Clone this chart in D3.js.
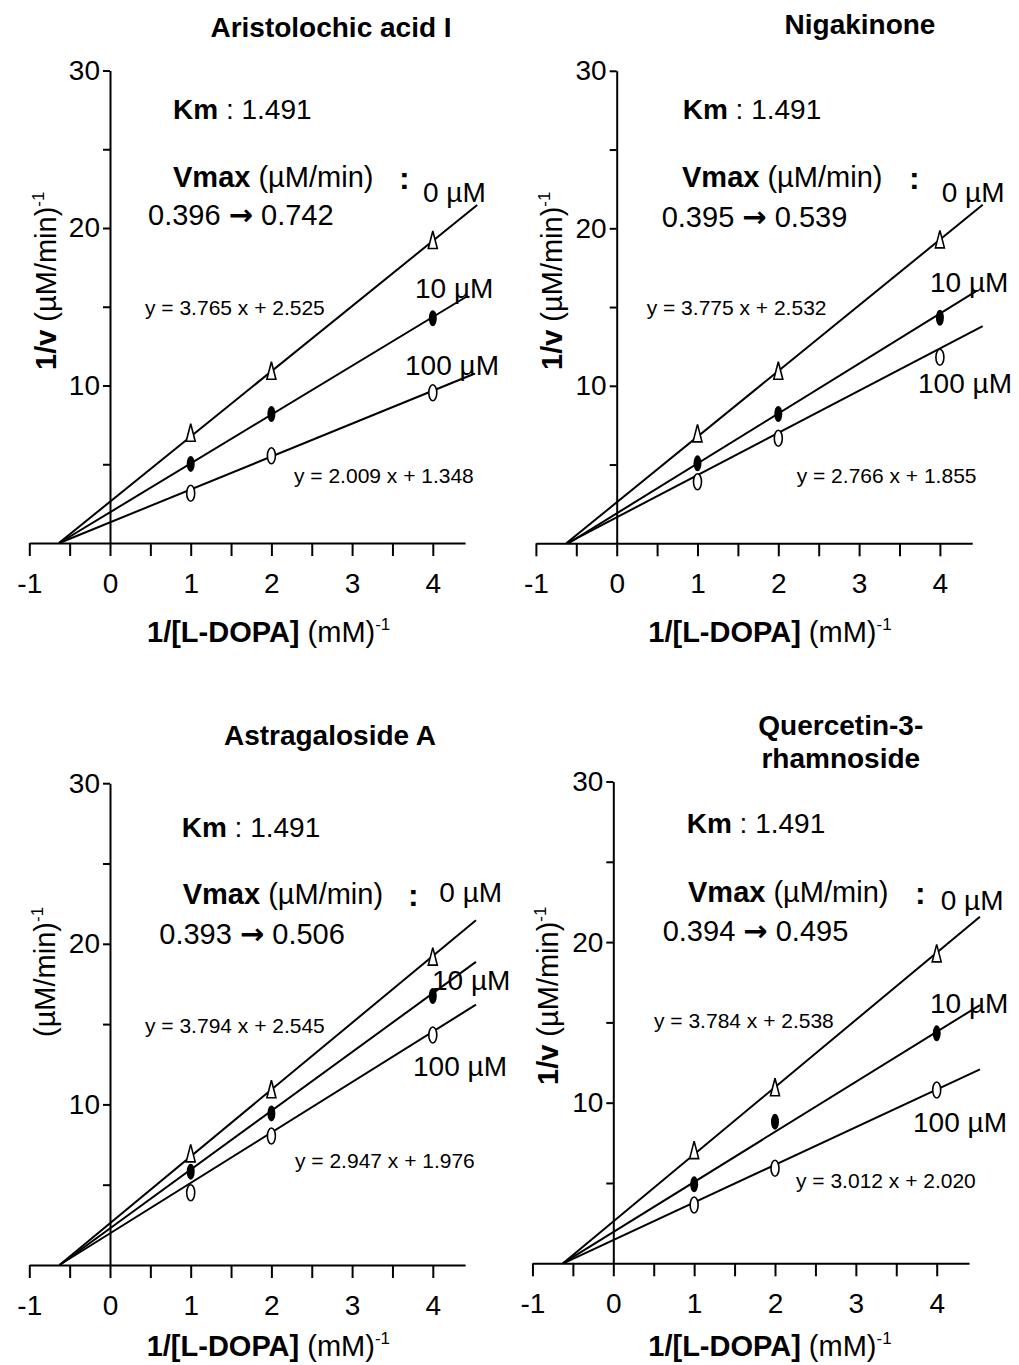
<!DOCTYPE html>
<html>
<head>
  <meta charset="utf-8">
  <title>Lineweaver-Burk plots</title>
  <script src="https://d3js.org/d3.v7.min.js"></script>
  <style>
    body { margin: 0; background: #fff; }
    svg { display: block; }
    text { font-family: "Liberation Sans", Arial, sans-serif; fill: #000; }
    .axis path, .axis line { stroke: #000; stroke-width: 2; fill: none; }
    .axis text { font-family: "Liberation Sans", Arial, sans-serif; font-size: 28px; }
  </style>
</head>
<body>
<svg id="chart" width="1019" height="1365"></svg>
<script>
  // ---- data ----
  const titles = [["Aristolochic acid I"], ["Nigakinone"], ["Astragaloside A"], ["Quercetin-3-", "rhamnoside"]];
  const concLabels = ["0 µM", "10 µM", "100 µM"];
  const substrate = [1, 2, 4];               // 1/[L-DOPA]
  const xTicks = [-1, -0.5, 0, 0.5, 1, 1.5, 2, 2.5, 3, 3.5, 4];
  const yTicks = [5, 10, 15, 20, 25, 30];

  // 1/v for each panel: [x=1, x=2, x=4]
  const inv0   = [[7.0, 10.94, 19.24], [6.98, 10.96, 19.3], [6.95, 10.94, 19.2], [7.05, 10.96, 19.3]];
  const inv10  = [[5.02, 8.19, 14.27], [5.08, 8.21, 14.32], [5.81, 9.44, 16.75], [4.92, 8.82, 14.32]];
  const inv100 = [[3.16, 5.54, 9.54], [3.91, 6.67, 11.81], [4.5, 8.03, 14.32], [3.63, 5.92, 10.79]];

  // drawn regression lines (slope, intercept) per panel, order 0 / 10 / 100 µM
  const slopes     = [[4.14, 3.10, 2.09], [4.17, 3.17, 2.68], [4.16, 3.66, 3.14], [4.185, 3.116, 2.344]];
  const intercepts = [[2.62, 1.95, 1.31], [2.6, 1.9, 1.65], [2.6, 2.28, 1.97], [2.6, 1.95, 1.45]];
  const lineEnds   = [[4.55, 4.42, 4.5], [4.53, 4.44, 4.53], [4.535, 4.535, 4.535], [4.535, 4.535, 4.535]];

  const kmValues = ["1.491", "1.491", "1.491", "1.491"];
  const vmaxFrom = ["0.396", "0.395", "0.393", "0.394"];
  const vmaxTo   = ["0.742", "0.539", "0.506", "0.495"];
  const eqTop    = ["y = 3.765 x + 2.525", "y = 3.775 x + 2.532", "y = 3.794 x + 2.545", "y = 3.784 x + 2.538"];
  const eqBottom = ["y = 2.009 x + 1.348", "y = 2.766 x + 1.855", "y = 2.947 x + 1.976", "y = 3.012 x + 2.020"];
  const showOneOverV = [true, true, false, true];

  // ---- layout (pixels) ----
  const layout = [
    { ox: 110, oy: 543, ux: 80.7, uy: 15.75, title: [331, 37], km: [173, 119], vmax: [173, 187], colon: [399, 189],
      range: [148, 225], c0: [423, 202], c10: [415, 298], c100: [405, 375], eq1: [145, 315], eq2: [294, 483],
      ylab: [56, 370], xlab: [147, 642] },
    { ox: 616.7, oy: 543.3, ux: 80.8, uy: 15.75, title: [860, 34], km: [682.7, 119], vmax: [682, 187], colon: [909, 189],
      range: [661.7, 227], c0: [941.7, 202], c10: [930, 292], c100: [918, 393], eq1: [646.7, 315], eq2: [796.7, 483],
      ylab: [562, 370], xlab: [648.3, 642] },
    { ox: 110, oy: 1265, ux: 80.7, uy: 16.06, title: [330, 745], km: [181.7, 837], vmax: [182.7, 904], colon: [408, 906],
      range: [159.3, 944], c0: [439.3, 902], c10: [432, 990], c100: [413, 1076], eq1: [145, 1033], eq2: [295, 1168],
      ylab: [55, 1037], xlab: [146.7, 1356] },
    { ox: 613.3, oy: 1263.3, ux: 80.85, uy: 16.06, title: [840.8, 768], km: [686.7, 833], vmax: [688, 902], colon: [915, 904],
      range: [662.7, 941], c0: [940.7, 910], c10: [930, 1013], c100: [913, 1132], eq1: [654, 1028], eq2: [796, 1188],
      ylab: [558, 1085], xlab: [648.3, 1356] }
  ];

  const svg = d3.select("#chart");
  svg.append("rect").attr("width", 1019).attr("height", 1365).attr("fill", "#fff");

  function label(g, pos, size, text, weight) {
    return g.append("text").attr("x", pos[0]).attr("y", pos[1])
      .attr("font-size", size).attr("font-weight", weight || "normal").text(text);
  }

  layout.forEach((L, i) => {
    const g = svg.append("g");
    const x = d3.scaleLinear().domain([-1, 4.4]).range([L.ox - L.ux, L.ox + 4.4 * L.ux]);
    const y = d3.scaleLinear().domain([0, 30]).range([L.oy, L.oy - 30 * L.uy]);

    // axes
    g.append("g").attr("class", "axis")
      .attr("transform", `translate(0,${L.oy})`)
      .call(d3.axisBottom(x).tickValues(xTicks).tickSize(13).tickSizeOuter(0).tickPadding(17)
        .tickFormat(d => Number.isInteger(d) ? String(d) : ""));
    g.append("g").attr("class", "axis")
      .attr("transform", `translate(${L.ox},0)`)
      .call(d3.axisLeft(y).tickValues(yTicks).tickSize(7).tickSizeOuter(0).tickPadding(3)
        .tickFormat(d => d % 10 === 0 ? String(d) : ""));

    // lines
    const lineGen = d3.line().x(d => x(d[0])).y(d => y(d[1]));
    [0, 1, 2].forEach(s => {
      const m = slopes[i][s], b = intercepts[i][s], xe = lineEnds[i][s];
      g.append("path")
        .attr("d", lineGen([[-b / m, 0], [xe, m * xe + b]]))
        .attr("fill", "none").attr("stroke", "#000").attr("stroke-width", 2);
    });

    // markers
    g.selectAll(".tri").data(inv0[i]).join("path")
      .attr("transform", (d, k) => `translate(${x(substrate[k])},${y(d)})`)
      .attr("d", "M0,-9L4.5,8.5L-4.5,8.5Z")
      .attr("fill", "#fff").attr("stroke", "#000").attr("stroke-width", 1.6);
    g.selectAll(".dot10").data(inv10[i]).join("ellipse")
      .attr("cx", (d, k) => x(substrate[k])).attr("cy", d => y(d))
      .attr("rx", 4).attr("ry", 8).attr("fill", "#000");
    g.selectAll(".dot100").data(inv100[i]).join("ellipse")
      .attr("cx", (d, k) => x(substrate[k])).attr("cy", d => y(d))
      .attr("rx", 4).attr("ry", 8).attr("fill", "#fff").attr("stroke", "#000").attr("stroke-width", 1.6);

    // title
    titles[i].forEach((t, k) => {
      g.append("text").attr("x", L.title[0]).attr("y", L.title[1] - (titles[i].length - 1 - k) * 33)
        .attr("text-anchor", "middle").attr("font-size", 28).attr("font-weight", "bold").text(t);
    });

    // Km / Vmax annotations
    const km = g.append("text").attr("x", L.km[0]).attr("y", L.km[1]).attr("font-size", 28);
    km.append("tspan").attr("font-weight", "bold").text("Km");
    km.append("tspan").text(" : " + kmValues[i]);
    const vm = g.append("text").attr("x", L.vmax[0]).attr("y", L.vmax[1]).attr("font-size", 29);
    vm.append("tspan").attr("font-weight", "bold").text("Vmax");
    vm.append("tspan").text(" (µM/min)");
    label(g, L.colon, 32, ":", "bold");
    const rg = g.append("text").attr("x", L.range[0]).attr("y", L.range[1]).attr("font-size", 29);
    rg.append("tspan").text(vmaxFrom[i] + " ");
    rg.append("tspan").attr("font-family", "DejaVu Sans").attr("font-weight", "bold").text("\u2192");
    rg.append("tspan").text(" " + vmaxTo[i]);

    // concentration labels and equations
    label(g, L.c0, 28, concLabels[0]);
    label(g, L.c10, 28, concLabels[1]);
    label(g, L.c100, 28, concLabels[2]);
    label(g, L.eq1, 21, eqTop[i]);
    label(g, L.eq2, 21, eqBottom[i]);

    // y axis title
    const yl = g.append("text").attr("transform", `translate(${L.ylab[0]},${L.ylab[1]}) rotate(-90)`)
      .attr("font-size", 29);
    if (showOneOverV[i]) yl.append("tspan").attr("font-weight", "bold").text("1/v ");
    yl.append("tspan").text("(µM/min)");
    yl.append("tspan").attr("font-size", 17).attr("dy", -12).text("-1");

    // x axis title
    const xl = g.append("text").attr("x", L.xlab[0]).attr("y", L.xlab[1]).attr("font-size", 29);
    xl.append("tspan").attr("font-weight", "bold").text("1/[L-DOPA]");
    xl.append("tspan").text(" (mM)");
    xl.append("tspan").attr("font-size", 17).attr("dy", -12).text("-1");
  });
</script>
</body>
</html>
